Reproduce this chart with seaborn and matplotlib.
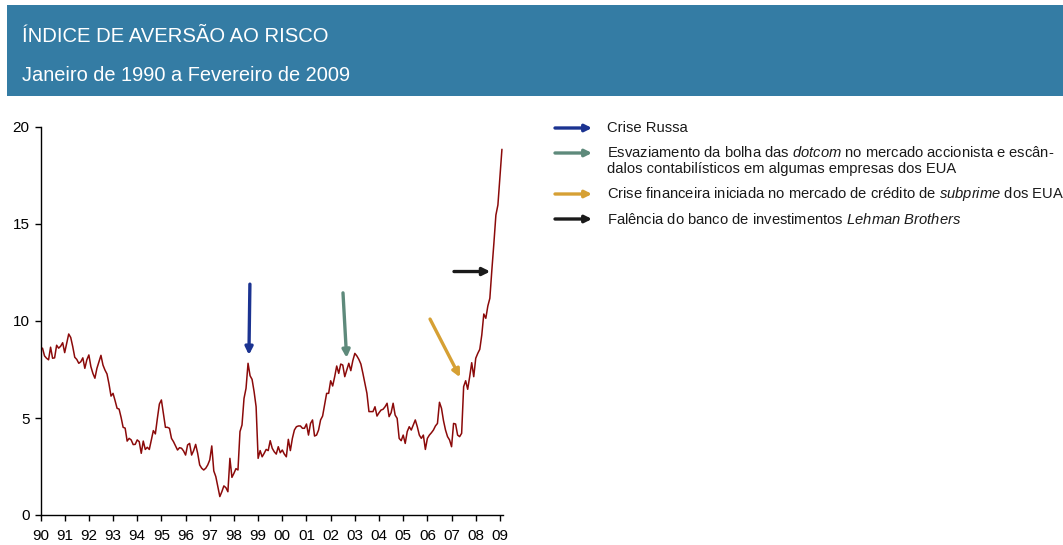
import numpy as np
import pandas as pd
import matplotlib
matplotlib.use("Agg")
import matplotlib.pyplot as plt
import seaborn as sns
from matplotlib.patches import Rectangle

# ---- data (monthly index, Jan 1990 - Feb 2009) ----
v1990 = [8.54, 8.60, 8.20, 8.08, 8.00, 8.65, 8.08, 8.10, 8.75, 8.60, 8.70, 8.88]
v1991 = [8.37, 8.85, 9.33, 9.15, 8.68, 8.13, 8.02, 7.82, 7.90, 8.10, 7.56, 8.00]
v1992 = [8.25, 7.65, 7.30, 7.05, 7.56, 7.90, 8.23, 7.73, 7.47, 7.27, 6.75, 6.13]
v1993 = [6.27, 5.90, 5.50, 5.46, 5.03, 4.52, 4.48, 3.81, 3.95, 3.87, 3.63, 3.64]
v1994 = [3.87, 3.78, 3.18, 3.81, 3.38, 3.49, 3.38, 3.87, 4.35, 4.18, 4.98, 5.72]
v1995 = [5.93, 5.24, 4.52, 4.52, 4.47, 3.95, 3.78, 3.56, 3.35, 3.47, 3.44, 3.30]
v1996 = [3.09, 3.61, 3.69, 3.09, 3.32, 3.64, 3.18, 2.58, 2.41, 2.32, 2.41, 2.58]
v1997 = [2.84, 3.56, 2.27, 1.98, 1.46, 0.95, 1.20, 1.50, 1.41, 1.20, 2.92, 1.94]
v1998 = [2.15, 2.39, 2.32, 4.30, 4.64, 6.01, 6.53, 7.82, 7.18, 6.99, 6.36, 5.58]
v1999 = [2.92, 3.32, 3.00, 3.18, 3.38, 3.32, 3.83, 3.44, 3.26, 3.14, 3.52, 3.21]
v2000 = [3.35, 3.14, 3.00, 3.90, 3.32, 3.95, 4.38, 4.55, 4.59, 4.59, 4.47, 4.47]
v2001 = [4.69, 4.12, 4.72, 4.90, 4.07, 4.12, 4.38, 4.90, 5.10, 5.67, 6.27, 6.27]
v2002 = [6.92, 6.65, 7.13, 7.68, 7.30, 7.78, 7.73, 7.13, 7.47, 7.82, 7.44, 7.96]
v2003 = [8.33, 8.20, 8.02, 7.78, 7.30, 6.79, 6.27, 5.33, 5.33, 5.33, 5.58, 5.10]
v2004 = [5.27, 5.41, 5.45, 5.58, 5.76, 5.07, 5.27, 5.76, 5.15, 4.98, 3.95, 3.83]
v2005 = [4.12, 3.69, 4.30, 4.55, 4.38, 4.64, 4.90, 4.55, 4.12, 3.95, 4.12, 3.38]
v2006 = [3.95, 4.12, 4.24, 4.38, 4.59, 4.72, 5.81, 5.50, 4.86, 4.38, 4.04, 3.87]
v2007 = [3.52, 4.72, 4.69, 4.12, 4.04, 4.21, 6.62, 6.92, 6.48, 7.13, 7.85, 7.13]
v2008 = [8.08, 8.33, 8.54, 9.28, 10.36, 10.14, 10.77, 11.17, 12.63, 14.00, 15.46, 15.98]
v2009 = [17.44, 18.85]

years = list(range(1990, 2010))
tick_labels = [f"{y % 100:02d}" for y in years]
y_ticks = [0, 5, 10, 15, 20]

# events: label, colour, arrow start and end (year, value)
event_labels = [
    "Crise Russa",
    "Esvaziamento da bolha das $\\mathit{dotcom}$ no mercado accionista e escân-\ndalos contabilísticos em algumas empresas dos EUA",
    "Crise financeira iniciada no mercado de crédito de $\\mathit{subprime}$ dos EUA",
    "Falência do banco de investimentos $\\mathit{Lehman\\ Brothers}$",
]
event_colors = ["#1B3391", "#5E8A7B", "#D6A034", "#1A1A1A"]
arrow_start = [(1998.66, 11.9), (2002.51, 11.45), (2006.11, 10.1), (2007.10, 12.55)]
arrow_end = [(1998.62, 8.25), (2002.66, 8.1), (2007.35, 7.1), (2008.60, 12.55)]

values = (v1990 + v1991 + v1992 + v1993 + v1994 + v1995 + v1996 + v1997 + v1998 +
          v1999 + v2000 + v2001 + v2002 + v2003 + v2004 + v2005 + v2006 + v2007 +
          v2008 + v2009)
df = pd.DataFrame({"t": 1990 + np.arange(len(values)) / 12.0, "v": values})

# ---- style ----
sns.set_theme(style="white")
plt.rcParams["font.family"] = ["Liberation Sans", "DejaVu Sans"]
plt.rcParams["mathtext.fontset"] = "custom"
plt.rcParams["mathtext.rm"] = "Liberation Sans"
plt.rcParams["mathtext.it"] = "Liberation Sans:italic"

W, H = 1063, 545
fig = plt.figure(figsize=(W / 100, H / 100), dpi=100)

# header band
fig.patches.append(Rectangle((7 / W, 1 - 96 / H), 1 - 7 / W, 91 / H,
                             transform=fig.transFigure, facecolor="#347CA4",
                             edgecolor="none", zorder=0))
fig.text(22 / W, 1 - 36 / H, "ÍNDICE DE AVERSÃO AO RISCO", color="white",
         fontsize=14.6, va="center", ha="left")
fig.text(22 / W, 1 - 75 / H, "Janeiro de 1990 a Fevereiro de 2009", color="white",
         fontsize=14.4, va="center", ha="left")

ax = fig.add_axes([40.5 / W, 30 / H, (503 - 40.5) / W, (515 - 127) / H])
sns.lineplot(data=df, x="t", y="v", ax=ax, color="#8B0A0A", linewidth=1.1)

ax.set_xlim(1990, 1990 + (503 - 40.5) / 24.18)
ax.set_ylim(0, 20)
ax.set_xticks(years)
ax.set_xticklabels(tick_labels, fontsize=11)
ax.set_yticks(y_ticks)
ax.set_yticklabels([str(t) for t in y_ticks], fontsize=11)
ax.set_xlabel("")
ax.set_ylabel("")
for s in ["top", "right"]:
    ax.spines[s].set_visible(False)
for s in ["left", "bottom"]:
    ax.spines[s].set_color("black")
    ax.spines[s].set_linewidth(1.0)
ax.tick_params(axis="both", which="major", direction="out", length=4, width=1,
               color="black", labelcolor="black", bottom=True, left=True, pad=4)
ax.tick_params(axis="x", pad=6)
ax.grid(False)

for st, en, col in zip(arrow_start, arrow_end, event_colors):
    ax.annotate("", xy=en, xytext=st,
                arrowprops=dict(arrowstyle="-|>", color=col, lw=2.4,
                                mutation_scale=11, shrinkA=0, shrinkB=0))

# legend
leg_rows = [128, 153, 194, 219]
for lab, col, yrow in zip(event_labels, event_colors, leg_rows):
    yf = 1 - yrow / H
    ax.annotate("", xy=(592 / W, yf), xytext=(555 / W, yf), xycoords="figure fraction",
                textcoords="figure fraction",
                arrowprops=dict(arrowstyle="-|>", color=col, lw=2.4,
                                mutation_scale=10, shrinkA=0, shrinkB=0),
                annotation_clip=False)
    if "\n" in lab:
        fig.text(607 / W, 1 - (yrow - 8) / H, lab, fontsize=10.6, va="top", ha="left",
                 color="#1a1a1a", linespacing=1.2)
    else:
        fig.text(607 / W, yf, lab, fontsize=10.6, va="center", ha="left",
                 color="#1a1a1a")

fig.savefig("out.png", dpi=100, facecolor="white")
